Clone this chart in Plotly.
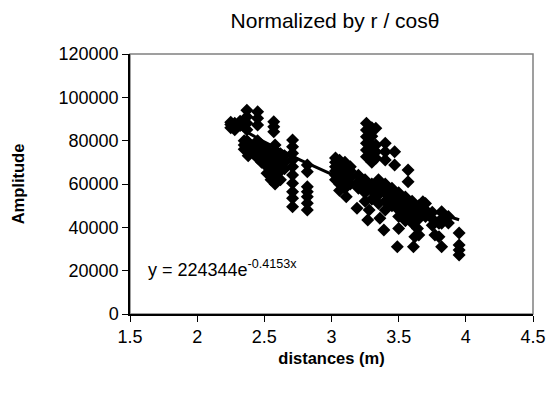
import numpy as np
import plotly.graph_objects as go

# ---- data ----
distance = [
    # left cluster
    2.25, 2.25, 2.25, 2.28, 2.28, 2.32, 2.32,
    2.37, 2.37, 2.37, 2.37, 2.37, 2.37,
    2.45, 2.45, 2.45,
    2.57, 2.57, 2.57,
    2.71, 2.71, 2.71, 2.71, 2.71, 2.71, 2.71, 2.71, 2.71, 2.71,
    2.82, 2.82, 2.82, 2.82, 2.82, 2.82, 2.82,
    2.35, 2.35, 2.35, 2.38, 2.38, 2.38, 2.38, 2.42, 2.42, 2.42,
    2.45, 2.45, 2.45, 2.45, 2.48, 2.48, 2.48, 2.48,
    2.52, 2.52, 2.52, 2.52, 2.52, 2.55, 2.55, 2.55, 2.55, 2.55,
    2.58, 2.58, 2.58, 2.58, 2.58, 2.58, 2.62, 2.62, 2.62, 2.62,
    2.65, 2.65, 2.65,
    # right cluster
    3.03, 3.03, 3.03, 3.03, 3.03, 3.03,
    3.06, 3.06, 3.06, 3.06, 3.06, 3.06, 3.06,
    3.10, 3.10, 3.10, 3.10, 3.10, 3.11,
    3.14, 3.14, 3.14, 3.14,
    3.19, 3.20, 3.20, 3.20,
    3.26, 3.26, 3.26, 3.26, 3.26, 3.26,
    3.30, 3.30, 3.30, 3.30, 3.30,
    3.33, 3.33, 3.33, 3.33,
    3.40, 3.40, 3.40,
    3.47, 3.47, 3.57, 3.57,
    3.25, 3.25, 3.25, 3.25, 3.28, 3.27,
    3.30, 3.30, 3.30,
    3.35, 3.35, 3.35, 3.35, 3.36,
    3.39, 3.40, 3.40, 3.40, 3.40,
    3.45, 3.45, 3.45,
    3.49, 3.50, 3.50, 3.50, 3.50, 3.50,
    3.55, 3.55, 3.55, 3.55,
    3.60, 3.60, 3.60, 3.60, 3.61, 3.62,
    3.64, 3.65, 3.65, 3.65, 3.65,
    3.68, 3.70, 3.70, 3.70,
    3.75, 3.75, 3.75, 3.77,
    3.80, 3.80, 3.82, 3.82, 3.82, 3.82,
    3.87, 3.87,
    3.95, 3.95, 3.95, 3.95,
]
amplitude = [
    86000, 87500, 88500, 85000, 88000, 87000, 89000,
    94000, 91000, 88000, 85000, 80000, 78000,
    93300, 90300, 87200,
    88700, 86400, 84100,
    80300, 77200, 74200, 71100, 68000, 64100, 60300, 56400, 53400, 49500,
    68800, 65700, 58700, 56400, 54100, 51100, 48000,
    80000, 78000, 76000, 79000, 77000, 75000, 73000, 78000, 76000, 74000,
    80000, 77000, 75000, 72000, 78000, 75000, 73000, 70000,
    76000, 73000, 70000, 68000, 65000, 74000, 71000, 68000, 66000, 62000,
    78000, 75000, 72000, 69000, 64000, 60000, 74000, 70000, 66000, 62000,
    73000, 70000, 67000,
    72000, 70000, 68000, 66000, 64000, 62000,
    71000, 69000, 67000, 65000, 63000, 60000, 57000,
    70000, 68000, 65000, 62000, 58000, 54100,
    68000, 66000, 63000, 60000,
    48800, 64000, 61000, 58000,
    88000, 84900, 81800, 78800, 75700, 72600,
    86000, 82000, 78000, 74000, 70000,
    85700, 78000, 74900, 71900,
    78800, 74900, 71100,
    74900, 68800, 66500, 61000,
    62000, 59000, 56000, 52000, 48000, 43400,
    60000, 57000, 53000,
    62000, 58000, 55000, 51000, 44200,
    38800, 60000, 56000, 52000, 48000,
    58000, 54000, 50000,
    31000, 56000, 52000, 48000, 45000, 39500,
    54000, 50000, 46000, 43000,
    52000, 48000, 45000, 42000, 31000, 35700,
    39500, 50000, 47000, 44000, 36500,
    51800, 51000, 48000, 45000,
    47000, 44000, 41000, 36500,
    41900, 35700, 47200, 44000, 41900, 31000,
    45000, 42000,
    37400, 31800, 29500, 27200,
]

fit_a = 224344
fit_b = -0.4153
fit_range = [2.25, 3.95]

x_ticks = [1.5, 2, 2.5, 3, 3.5, 4, 4.5]
y_ticks = [0, 20000, 40000, 60000, 80000, 100000, 120000]

fit_x = np.linspace(fit_range[0], fit_range[1], 60)
fit_y = fit_a * np.exp(fit_b * fit_x)

FONT = "Liberation Sans, Arial, sans-serif"

fig = go.Figure()
fig.add_trace(go.Scatter(
    x=distance, y=amplitude, mode="markers",
    marker=dict(symbol="diamond", size=10, color="black",
                line=dict(width=0)),
    showlegend=False, hoverinfo="skip"))
fig.add_trace(go.Scatter(
    x=fit_x, y=fit_y, mode="lines",
    line=dict(color="black", width=3),
    showlegend=False, hoverinfo="skip"))

fig.update_layout(
    width=558, height=398,
    margin=dict(l=130, r=18, t=54, b=84),
    paper_bgcolor="white", plot_bgcolor="white",
    font=dict(family=FONT, color="black", size=18),
    title=dict(text="Normalized by r / cos\u03b8", xref="container",
               x=335 / 558, xanchor="center",
               yref="container", y=1 - 21 / 398, yanchor="middle",
               font=dict(size=21, family=FONT)),
    xaxis=dict(range=[1.5, 4.5], tickvals=x_ticks,
               ticktext=[str(v) for v in x_ticks],
               showgrid=False, zeroline=False,
               showline=True, linecolor="black", linewidth=1.5,
               ticks="outside", ticklen=6, tickcolor="black",
               tickfont=dict(size=18),
               title=dict(text="<b>distances (m)</b>", font=dict(size=16.5),
                          standoff=6)),
    yaxis=dict(range=[0, 120000], tickvals=y_ticks,
               ticktext=[str(v) for v in y_ticks],
               showgrid=False, zeroline=False,
               showline=True, linecolor="black", linewidth=1.5,
               ticks="outside", ticklen=6, tickcolor="black",
               tickfont=dict(size=18),
               title=dict(text="<b>Amplitude</b>", font=dict(size=16.5),
                          standoff=30)),
    shapes=[dict(type="rect", xref="paper", yref="paper",
                 x0=0, x1=1, y0=0, y1=1,
                 line=dict(color="#808080", width=1.5), layer="below")],
    annotations=[dict(x=1.62, y=21000, xref="x", yref="y",
                      text="y = 224344e<sup>-0.4153x</sup>",
                      showarrow=False, xanchor="left", yanchor="middle",
                      font=dict(size=18))],
)

fig.write_html("out.html")
